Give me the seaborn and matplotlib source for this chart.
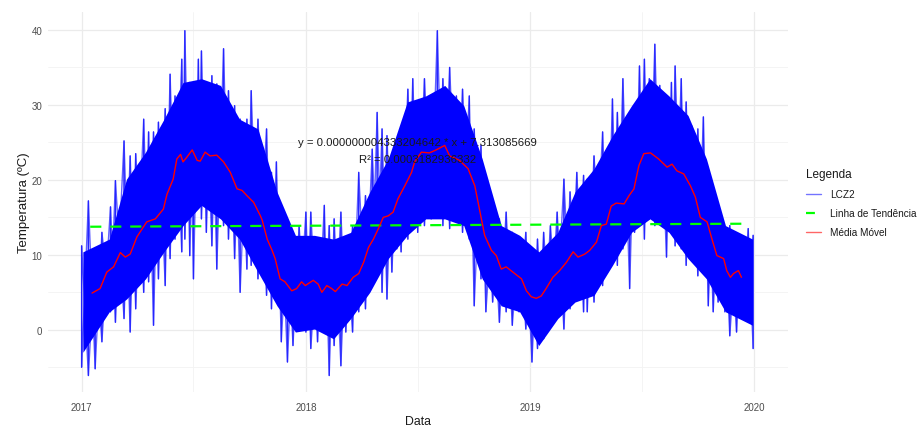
import matplotlib
matplotlib.use("Agg")
import matplotlib.pyplot as plt
from matplotlib.lines import Line2D
import numpy as np
import pandas as pd
import seaborn as sns

# ---------------- data ----------------
# LCZ2 hourly temperature: outer envelope (spike tops / spike bottoms)
env_dates = [
    "2017-01-01", "2017-01-12", "2017-01-23", "2017-02-03", "2017-02-17", "2017-02-25",
    "2017-03-11", "2017-03-21", "2017-03-30", "2017-04-12", "2017-04-20", "2017-04-28",
    "2017-05-06", "2017-05-17", "2017-05-25", "2017-06-02", "2017-06-13", "2017-06-18",
    "2017-06-26", "2017-07-02", "2017-07-10", "2017-07-15", "2017-07-23", "2017-08-01",
    "2017-08-09", "2017-08-20", "2017-08-28", "2017-09-07", "2017-09-16", "2017-09-27",
    "2017-10-04", "2017-10-15", "2017-10-29", "2017-11-06", "2017-11-14", "2017-11-22",
    "2017-12-02", "2017-12-11", "2017-12-21", "2018-01-01", "2018-01-09", "2018-01-20",
    "2018-01-31", "2018-02-08", "2018-02-16", "2018-02-27", "2018-03-07", "2018-03-18",
    "2018-03-28", "2018-04-08", "2018-04-19", "2018-04-27", "2018-05-05", "2018-05-13",
    "2018-05-21", "2018-05-29", "2018-06-05", "2018-06-16", "2018-06-24", "2018-07-02",
    "2018-07-13", "2018-07-24", "2018-08-03", "2018-08-12", "2018-08-23", "2018-09-03",
    "2018-09-13", "2018-09-24", "2018-10-02", "2018-10-13", "2018-10-21", "2018-11-01",
    "2018-11-12", "2018-11-23", "2018-12-03", "2018-12-14", "2018-12-25", "2019-01-04",
    "2019-01-13", "2019-01-23", "2019-02-03", "2019-02-14", "2019-02-25", "2019-03-07",
    "2019-03-18", "2019-03-29", "2019-04-04", "2019-04-15", "2019-04-29", "2019-05-07",
    "2019-05-15", "2019-05-23", "2019-06-01", "2019-06-12", "2019-06-20", "2019-06-28",
    "2019-07-06", "2019-07-14", "2019-07-23", "2019-07-31", "2019-08-11", "2019-08-19",
    "2019-08-25", "2019-09-04", "2019-09-12", "2019-09-21", "2019-10-01", "2019-10-10",
    "2019-10-18", "2019-10-26", "2019-11-03", "2019-11-14", "2019-11-22", "2019-12-03",
    "2019-12-11", "2019-12-22", "2019-12-30",
]
env_upper = [
    11.2, 17.2, 10.4, 13.0, 16.4, 19.9, 25.2, 23.2, 23.5, 28.1, 26.4, 26.4,
    27.7, 29.5, 34.1, 31.2, 36.1, 39.9, 33.0, 30.8, 36.1, 37.2, 31.7, 33.9,
    32.8, 37.5, 31.9, 29.9, 28.1, 28.1, 31.9, 28.1, 26.8, 21.0, 22.4, 16.6,
    13.9, 12.6, 13.9, 15.7, 15.7, 11.2, 16.6, 13.9, 14.8, 15.7, 12.1, 13.9,
    21.0, 17.9, 24.1, 29.0, 26.8, 25.9, 22.8, 22.8, 26.8, 32.1, 33.5, 29.9,
    33.5, 30.8, 39.9, 33.5, 35.0, 31.2, 32.1, 31.2, 26.8, 24.6, 18.4, 15.7,
    14.8, 15.7, 13.0, 12.1, 13.0, 10.4, 12.1, 13.0, 13.9, 15.7, 20.1, 18.4,
    21.0, 20.6, 20.1, 23.2, 26.4, 24.1, 30.8, 29.0, 33.5, 28.1, 29.0, 35.2,
    36.1, 33.5, 38.1, 32.6, 28.1, 33.0, 35.2, 33.5, 30.4, 27.2, 26.8, 28.4,
    21.0, 18.8, 15.7, 13.0, 13.9, 12.6, 11.7, 13.5, 12.6,
]
env_lower = [
    -5.0, -6.1, -5.2, -1.6, 2.4, 1.0, 1.5, -0.3, 2.8, 5.0, 6.4, 0.6,
    6.8, 5.9, 9.5, 12.1, 10.4, 12.1, 9.9, 6.8, 16.6, 14.8, 13.0, 11.2,
    8.1, 13.9, 12.1, 9.5, 5.0, 8.1, 8.6, 6.8, 4.6, 2.8, 4.1, -1.6,
    -4.3, -2.1, 0.6, -0.3, -2.5, -1.6, 1.5, -6.1, -2.1, -4.8, -0.3, -0.3,
    2.4, 2.8, 6.4, 7.7, 5.0, 4.1, 7.7, 10.8, 10.4, 12.1, 13.9, 13.0,
    13.9, 14.8, 15.2, 13.9, 13.5, 14.4, 13.0, 12.1, 3.2, 6.8, 2.4, 3.7,
    1.0, 2.4, 0.6, 2.4, 0.1, -4.3, -2.5, -1.2, 0.6, 2.4, 0.1, 2.8,
    4.1, 2.4, 2.4, 3.7, 5.9, 7.7, 10.4, 8.6, 10.8, 5.5, 13.0, 14.4,
    12.1, 14.8, 13.9, 14.8, 9.7, 13.0, 11.2, 10.8, 8.6, 9.5, 7.2, 7.7,
    3.2, 2.4, 3.7, 2.4, -0.8, -0.3, 1.5, 2.8, -2.5,
]

# LCZ2: dense core of the hourly trace (monthly)
core_dates = [
    "2017-01-03", "2017-02-15", "2017-03-15", "2017-04-15", "2017-05-15", "2017-06-15",
    "2017-07-15", "2017-08-15", "2017-09-15", "2017-10-15", "2017-11-15", "2017-12-15",
    "2018-01-15", "2018-02-15", "2018-03-15", "2018-04-15", "2018-05-15", "2018-06-15",
    "2018-07-15", "2018-08-15", "2018-09-15", "2018-10-15", "2018-11-15", "2018-12-15",
    "2019-01-15", "2019-02-15", "2019-03-15", "2019-04-15", "2019-05-15", "2019-06-15",
    "2019-07-15", "2019-08-15", "2019-09-15", "2019-10-15", "2019-11-15", "2019-12-29",
]
core_upper = [
    10.4, 12.1, 20.1, 23.7, 28.1, 33.0, 33.5, 32.6, 28.1, 26.8, 18.4, 12.6,
    12.6, 12.1, 13.0, 18.4, 22.8, 30.4, 31.2, 32.6, 29.9, 22.8, 13.9, 12.6,
    10.4, 13.0, 18.4, 21.5, 25.9, 29.9, 33.5, 31.2, 28.6, 22.8, 13.9, 12.1,
]
core_lower = [
    -3.0, 2.4, 4.1, 6.8, 10.4, 13.9, 16.6, 14.8, 12.1, 7.7, 3.2, -0.3,
    0.1, -1.2, 1.5, 5.0, 9.5, 12.6, 14.8, 14.8, 13.9, 6.8, 3.2, 2.4,
    -2.1, 1.5, 3.7, 4.6, 8.6, 13.0, 14.8, 13.0, 9.5, 6.8, 2.4, 0.6,
]

# Moving average (Média Móvel)
ma_dates = [
    "2017-01-18", "2017-01-31", "2017-02-11", "2017-02-22", "2017-03-05", "2017-03-13",
    "2017-03-21", "2017-04-01", "2017-04-17", "2017-05-01", "2017-05-14", "2017-05-20",
    "2017-05-30", "2017-06-05", "2017-06-11", "2017-06-15", "2017-06-21", "2017-06-30",
    "2017-07-08", "2017-07-13", "2017-07-21", "2017-07-29", "2017-08-09", "2017-08-20",
    "2017-08-31", "2017-09-11", "2017-09-19", "2017-09-27", "2017-10-08", "2017-10-19",
    "2017-10-22", "2017-10-30", "2017-11-07", "2017-11-12", "2017-11-20", "2017-11-28",
    "2017-12-09", "2017-12-17", "2017-12-25", "2017-12-31", "2018-01-13", "2018-01-21",
    "2018-01-27", "2018-02-04", "2018-02-12", "2018-02-18", "2018-03-01", "2018-03-09",
    "2018-03-19", "2018-03-28", "2018-04-05", "2018-04-13", "2018-04-21", "2018-04-29",
    "2018-05-07", "2018-05-15", "2018-05-23", "2018-05-31", "2018-06-11", "2018-06-22",
    "2018-06-27", "2018-07-08", "2018-07-21", "2018-08-01", "2018-08-15", "2018-08-23",
    "2018-09-03", "2018-09-08", "2018-09-22", "2018-10-03", "2018-10-11", "2018-10-19",
    "2018-10-30", "2018-11-07", "2018-11-15", "2018-11-23", "2018-12-07", "2018-12-18",
    "2018-12-26", "2019-01-03", "2019-01-11", "2019-01-19", "2019-01-27", "2019-02-07",
    "2019-02-18", "2019-03-01", "2019-03-12", "2019-03-20", "2019-03-31", "2019-04-08",
    "2019-04-19", "2019-04-27", "2019-05-05", "2019-05-13", "2019-05-21", "2019-06-03",
    "2019-06-11", "2019-06-19", "2019-06-27", "2019-07-05", "2019-07-16", "2019-07-29",
    "2019-08-12", "2019-08-20", "2019-08-28", "2019-09-08", "2019-09-19", "2019-09-27",
    "2019-10-05", "2019-10-16", "2019-10-24", "2019-11-01", "2019-11-12", "2019-11-17",
    "2019-11-23", "2019-11-28", "2019-12-06", "2019-12-11",
]
ma_values = [
    4.9, 5.5, 7.7, 8.4, 10.3, 9.7, 10.1, 12.4, 14.4, 14.8, 16.1, 18.1,
    20.1, 22.8, 23.4, 22.4, 23.0, 24.0, 22.6, 22.5, 23.7, 23.2, 23.3, 22.4,
    21.0, 18.8, 18.6, 17.9, 17.0, 15.2, 14.6, 12.1, 10.6, 9.5, 6.8, 6.4,
    5.2, 5.5, 6.4, 5.9, 6.6, 6.1, 5.0, 5.9, 5.5, 5.1, 6.1, 5.9,
    7.0, 7.5, 9.0, 11.0, 12.1, 13.5, 15.0, 15.2, 15.7, 17.5, 19.2, 21.0,
    22.4, 23.7, 23.6, 24.0, 24.6, 23.2, 22.8, 22.6, 21.5, 19.2, 15.9, 12.6,
    10.6, 9.9, 8.1, 8.4, 7.5, 6.8, 5.2, 4.4, 4.2, 4.5, 5.5, 7.0,
    7.9, 9.0, 10.4, 9.7, 10.1, 10.6, 11.7, 13.9, 14.1, 16.5, 16.9, 16.8,
    17.9, 18.8, 21.9, 23.5, 23.6, 22.8, 21.7, 22.1, 21.2, 20.8, 19.2, 17.7,
    15.0, 14.4, 12.1, 9.9, 9.5, 7.9, 7.0, 7.5, 7.9, 7.0,
]

# Trend line (Linha de Tendência) end points
trend_dates = ["2017-01-15", "2019-12-12"]
trend_values = [13.75, 14.15]

eq_text = "y = 0.000000004333204642 * x + 7.313085669"
r2_text = "R\u00b2 = 0.0003182936332"
year_ticks = ["2017-01-01", "2018-01-01", "2019-01-01", "2020-01-01"]
year_labels = ["2017", "2018", "2019", "2020"]
y_ticks = [0, 10, 20, 30, 40]

# ---------------- figure ----------------
sns.set_theme(style="white")
plt.rcParams["font.family"] = ["Liberation Sans", "DejaVu Sans"]

fig = plt.figure(figsize=(9.2, 4.27), dpi=100)
ax = fig.add_axes([48 / 920, 1 - 393 / 427, (788 - 48) / 920, (393 - 13) / 427])

t_env = pd.to_datetime(env_dates)
zz_a = pd.DataFrame({
    "Data": np.repeat(t_env.values, 2),
    "Temp": np.column_stack([env_upper, env_lower]).ravel(),
})
zz_b = pd.DataFrame({
    "Data": np.repeat(t_env.values, 2),
    "Temp": np.column_stack([env_lower, env_upper]).ravel(),
})
core = pd.DataFrame({"Data": pd.to_datetime(core_dates), "lo": core_lower, "hi": core_upper})
ma = pd.DataFrame({"Data": pd.to_datetime(ma_dates), "Temp": ma_values})
trend = pd.DataFrame({"Data": pd.to_datetime(trend_dates), "Temp": trend_values})

BLUE = "#0000FF"
# LCZ2 trace
ax.fill_between(core["Data"], core["lo"], core["hi"], color=BLUE, lw=0, zorder=2)
sns.lineplot(data=zz_a, x="Data", y="Temp", estimator=None, sort=False,
             color=BLUE, alpha=0.62, lw=1.0, ax=ax, zorder=3)
sns.lineplot(data=zz_b, x="Data", y="Temp", estimator=None, sort=False,
             color=BLUE, alpha=0.62, lw=1.0, ax=ax, zorder=3)
# trend
sns.lineplot(data=trend, x="Data", y="Temp", estimator=None, color="#00FF00",
             lw=1.6, ax=ax, zorder=4, linestyle=(0, (5, 4)))
# moving average
sns.lineplot(data=ma, x="Data", y="Temp", estimator=None, color="#FF0000",
             lw=1.0, ax=ax, zorder=5)

# annotation
x_txt = pd.Timestamp("2018-07-01")
ax.text(x_txt, 25.1, eq_text, ha="center", va="center", fontsize=8.2, color="#1a1a1a", zorder=6)
ax.text(x_txt, 22.8, r2_text, ha="center", va="center", fontsize=8.2, color="#1a1a1a", zorder=6)

# axes limits / ticks
ax.set_xlim(pd.Timestamp("2017-01-01") - pd.Timedelta(days=54.75),
            pd.Timestamp("2020-01-01") + pd.Timedelta(days=54.75))
ax.set_ylim(-8.3, 42.4)
ax.set_xticks(pd.to_datetime(year_ticks))
ax.set_xticklabels(year_labels)
ax.set_xticks(pd.to_datetime(["2017-07-02", "2018-07-02", "2019-07-02"]), minor=True)
ax.set_yticks(y_ticks)
ax.set_yticks([-5, 5, 15, 25, 35], minor=True)
ax.tick_params(axis="both", which="both", length=0, labelsize=7, labelcolor="#4D4D4D")
ax.tick_params(axis="x", which="major", pad=7.3)
ax.tick_params(axis="y", which="major", pad=4)
ax.grid(which="major", color="#EBEBEB", lw=0.9)
ax.grid(which="minor", color="#F3F3F3", lw=0.6)
ax.set_axisbelow(True)
for s in ax.spines.values():
    s.set_visible(False)

ax.set_xlabel("Data", fontsize=8.8, color="#1a1a1a", labelpad=2)
ax.set_ylabel("Temperatura (ºC)", fontsize=9.5, color="#1a1a1a", labelpad=1.5)

# legend
handles = [
    Line2D([], [], color=BLUE, alpha=0.55, lw=1.0),
    Line2D([], [], color="#00FF00", lw=1.6, linestyle=(0, (4, 4))),
    Line2D([], [], color="#FF0000", alpha=0.6, lw=1.0),
]
labels = ["LCZ2", "Linha de Tendência", "Média Móvel"]
leg = fig.legend(handles, labels, title="Legenda", loc="upper left",
                 bbox_to_anchor=(802 / 920, 1 - 165 / 427), frameon=False,
                 fontsize=7.2, title_fontsize=8.5, handlelength=1.5,
                 handletextpad=0.9, labelspacing=0.9, borderaxespad=0)
leg._legend_box.align = "left"
for txt in leg.get_texts():
    txt.set_color("#1a1a1a")
leg.get_title().set_color("#1a1a1a")

fig.savefig("out.png", dpi=100)
